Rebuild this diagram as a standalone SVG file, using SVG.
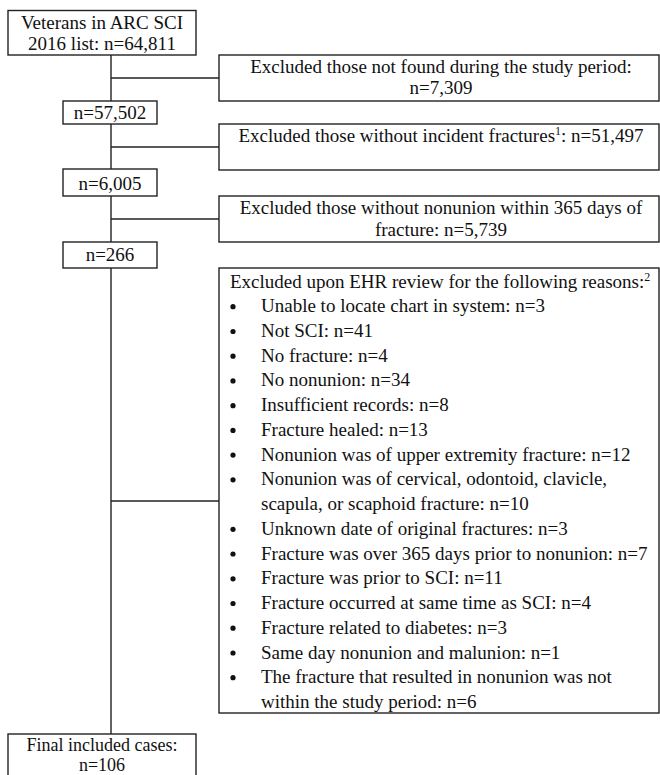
<svg xmlns="http://www.w3.org/2000/svg" width="660" height="775" viewBox="0 0 660 775">
<style>
.box{fill:#fff;stroke:#222;stroke-width:1.4}
.ln{fill:none;stroke:#222;stroke-width:1.4}
text{font-family:"Liberation Serif","Times New Roman",serif;font-size:19px;fill:#111}
.c{text-anchor:middle}
.sup{font-size:12px}
.dot{fill:#111}
.sm{font-size:18px}
</style>
<rect width="660" height="775" fill="#fff"/>
<g id="connectors">
<line class="ln" x1="111" y1="55" x2="111" y2="734"/>
<line class="ln" x1="111" y1="78" x2="219" y2="78"/>
<line class="ln" x1="111" y1="147" x2="219" y2="147"/>
<line class="ln" x1="111" y1="219" x2="219" y2="219"/>
<line class="ln" x1="111" y1="501" x2="219" y2="501"/>
</g>
<g id="start">
<rect class="box" x="8" y="10.5" width="188" height="44.5"/>
<text class="c" x="102" y="28.5">Veterans in ARC SCI</text>
<text class="c" x="102" y="49.5">2016 list: n=64,811</text>
</g>
<g id="excl1">
<rect class="box" x="219" y="55" width="440" height="46"/>
<text class="c" x="441" y="72.5">Excluded those not found during the study period:</text>
<text class="c" x="441" y="94">n=7,309</text>
</g>
<g id="n57502">
<rect class="box" x="63" y="101" width="94" height="23"/>
<text class="c" x="110" y="119">n=57,502</text>
</g>
<g id="excl2">
<rect class="box" x="219" y="124" width="440" height="46"/>
<text class="c" x="441" y="142">Excluded those without incident fractures<tspan class="sup" dy="-7">1</tspan><tspan dy="7">: n=51,497</tspan></text>
</g>
<g id="n6005">
<rect class="box" x="63" y="169" width="94" height="27"/>
<text class="c" x="110" y="189.5">n=6,005</text>
</g>
<g id="excl3">
<rect class="box" x="219" y="196" width="440" height="46"/>
<text class="c" x="441" y="214">Excluded those without nonunion within 365 days of</text>
<text class="c" x="441" y="235.5">fracture: n=5,739</text>
</g>
<g id="n266">
<rect class="box" x="63" y="242" width="94" height="26"/>
<text class="c" x="110" y="261">n=266</text>
</g>
<g id="excl4">
<rect class="box" x="219" y="268" width="440" height="445"/>
<text x="230" y="287.5">Excluded upon EHR review for the following reasons:<tspan class="sup" dy="-7">2</tspan></text>
<circle class="dot" cx="233" cy="306.7" r="2.6"/><text x="261" y="312.2">Unable to locate chart in system: n=3</text>
<circle class="dot" cx="233" cy="331.5" r="2.6"/><text x="261" y="337">Not SCI: n=41</text>
<circle class="dot" cx="233" cy="356.2" r="2.6"/><text x="261" y="361.7">No fracture: n=4</text>
<circle class="dot" cx="233" cy="380.9" r="2.6"/><text x="261" y="386.4">No nonunion: n=34</text>
<circle class="dot" cx="233" cy="405.7" r="2.6"/><text x="261" y="411.2">Insufficient records: n=8</text>
<circle class="dot" cx="233" cy="430.4" r="2.6"/><text x="261" y="435.9">Fracture healed: n=13</text>
<circle class="dot" cx="233" cy="455.1" r="2.6"/><text x="261" y="460.6">Nonunion was of upper extremity fracture: n=12</text>
<circle class="dot" cx="233" cy="479.8" r="2.6"/><text x="261" y="485.3">Nonunion was of cervical, odontoid, clavicle,</text>
<text x="261" y="510.1">scapula, or scaphoid fracture: n=10</text>
<circle class="dot" cx="233" cy="529.3" r="2.6"/><text x="261" y="534.8">Unknown date of original fractures: n=3</text>
<circle class="dot" cx="233" cy="554" r="2.6"/><text x="261" y="559.5">Fracture was over 365 days prior to nonunion: n=7</text>
<circle class="dot" cx="233" cy="578.8" r="2.6"/><text x="261" y="584.3">Fracture was prior to SCI: n=11</text>
<circle class="dot" cx="233" cy="603.5" r="2.6"/><text x="261" y="609">Fracture occurred at same time as SCI: n=4</text>
<circle class="dot" cx="233" cy="628.2" r="2.6"/><text x="261" y="633.7">Fracture related to diabetes: n=3</text>
<circle class="dot" cx="233" cy="653" r="2.6"/><text x="261" y="658.5">Same day nonunion and malunion: n=1</text>
<circle class="dot" cx="233" cy="677.7" r="2.6"/><text x="261" y="683.2">The fracture that resulted in nonunion was not</text>
<text x="261" y="707.9">within the study period: n=6</text>
</g>
<g id="final">
<rect class="box" x="8" y="734" width="188" height="46"/>
<text class="c sm" x="102" y="751">Final included cases:</text>
<text class="c sm" x="102" y="771">n=106</text>
</g>
</svg>
